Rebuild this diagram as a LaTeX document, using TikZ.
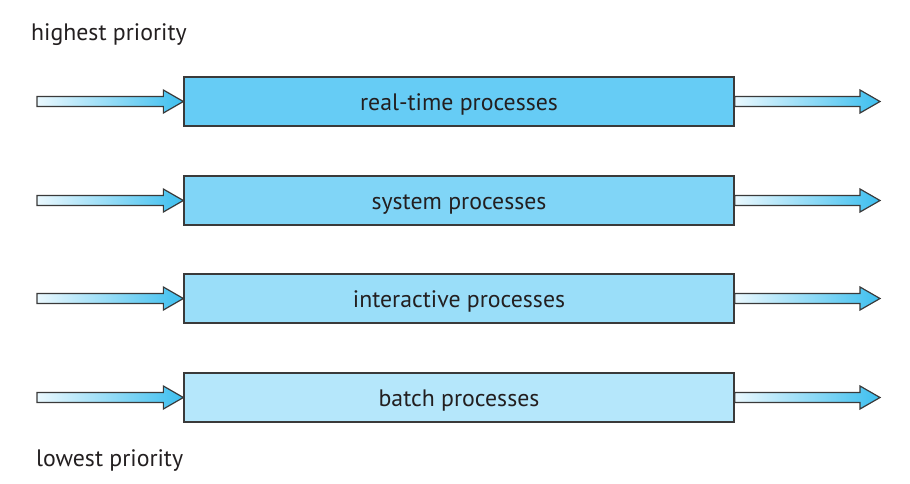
\documentclass[tikz,border=0pt]{standalone}
\usepackage{fontspec}
\setmainfont{PT Sans}
\usetikzlibrary{calc}
\definecolor{edge}{HTML}{3A3A3A}
\definecolor{txt}{HTML}{231F20}
\definecolor{cA}{HTML}{66CCF5}
\definecolor{cB}{HTML}{80D5F7}
\definecolor{cC}{HTML}{9ADEF9}
\definecolor{cD}{HTML}{B5E7FB}
\definecolor{arL}{HTML}{EAF8FE}
\definecolor{arR}{HTML}{3DBFEF}
\tikzset{
  procbox/.style={draw=edge, line width=1.3pt, minimum width=550pt, minimum height=49pt, inner sep=0pt, text height=18.4pt, text depth=0pt, font=\fontsize{23.8}{28}\selectfont, text=txt},
  fatarr/.style={draw=edge, line width=1.2pt, left color=arL, right color=arR, line join=miter},
  lbl/.style={font=\fontsize{23.8}{28}\selectfont, text=txt, inner sep=0pt, anchor=base west}
}
\newcommand\fatarrow[2]{%
  \path[fatarr] let \p1=(#1), \p2=(#2) in
    (\x1,\y1+5) -- (\x2-20,\y1+5) -- (\x2-20,\y1+11.5) -- (\x2,\y1)
    -- (\x2-20,\y1-11.5) -- (\x2-20,\y1-5) -- (\x1,\y1-5) -- cycle;}
\begin{document}
\begin{tikzpicture}[x=1pt,y=-1pt]
\useasboundingbox (0,0) rectangle (910,483);
\node[lbl] (hi) at (31,40.5) {highest priority};
\node[lbl] (lo) at (36,466.5) {lowest priority};
\foreach \i/\c/\t/\y in {1/cA/real-time processes/101.5, 2/cB/system processes/200.5, 3/cC/interactive processes/298.5, 4/cD/batch processes/397.5}{
  \node[procbox, fill=\c] (b\i) at (459,\y) {\t};
  \coordinate (in\i) at (37,\y);
  \coordinate (out\i) at (880,\y);
  \fatarrow{in\i}{b\i.west}
  \fatarrow{b\i.east}{out\i}
}
\end{tikzpicture}
\end{document}
